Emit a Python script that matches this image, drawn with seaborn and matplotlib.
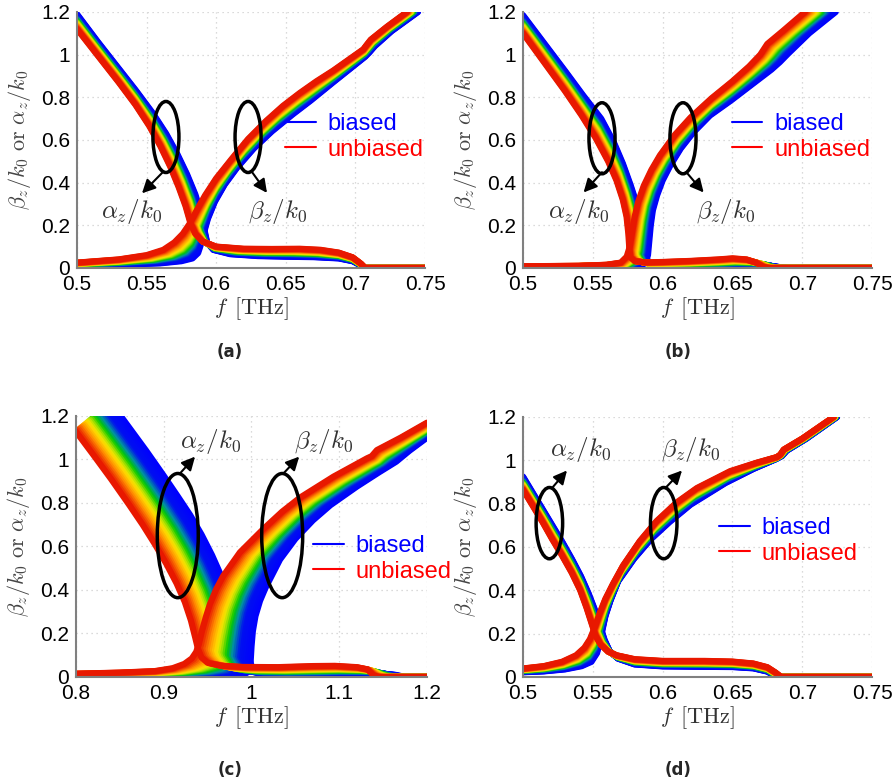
import numpy as np
import pandas as pd
import seaborn as sns
import matplotlib.pyplot as plt
from matplotlib.patches import Ellipse
from matplotlib.lines import Line2D
from matplotlib.ticker import FuncFormatter
from matplotlib.colors import LinearSegmentedColormap

# ---- data: (f [THz], value) for the biased (blue) and unbiased (red) curves
# panel (a)
a_down_blue = [(0.500, 1.19), (0.515, 1.06), (0.530, 0.935), (0.542, 0.835), (0.554, 0.73), (0.564, 0.63),
               (0.572, 0.535), (0.579, 0.44), (0.585, 0.345), (0.589, 0.26), (0.5915, 0.18), (0.5935, 0.12),
               (0.598, 0.085), (0.610, 0.065), (0.630, 0.056), (0.650, 0.053), (0.670, 0.051), (0.688, 0.045),
               (0.698, 0.032), (0.703, 0.015), (0.706, 0.0), (0.750, 0.0)]
a_down_red = [(0.500, 1.12), (0.515, 0.995), (0.530, 0.87), (0.542, 0.765), (0.552, 0.665), (0.560, 0.57),
              (0.567, 0.475), (0.573, 0.38), (0.578, 0.29), (0.5815, 0.21), (0.585, 0.16), (0.590, 0.125),
              (0.600, 0.10), (0.620, 0.09), (0.640, 0.089), (0.660, 0.09), (0.675, 0.085), (0.688, 0.072),
              (0.698, 0.05), (0.704, 0.02), (0.707, 0.0), (0.750, 0.0)]
a_up_blue = [(0.500, 0.01), (0.530, 0.015), (0.560, 0.022), (0.575, 0.032), (0.583, 0.045), (0.587, 0.07),
             (0.589, 0.11), (0.591, 0.16), (0.594, 0.23), (0.599, 0.31), (0.606, 0.39), (0.615, 0.47),
             (0.627, 0.56), (0.640, 0.64), (0.655, 0.72), (0.668, 0.785), (0.684, 0.87), (0.707, 0.99),
             (0.710, 1.01), (0.714, 1.04), (0.726, 1.11), (0.745, 1.2)]
a_up_red = [(0.500, 0.025), (0.530, 0.04), (0.550, 0.06), (0.562, 0.085), (0.570, 0.12), (0.576, 0.16),
            (0.5812, 0.21), (0.586, 0.27), (0.592, 0.34), (0.600, 0.42), (0.611, 0.51), (0.623, 0.605),
            (0.636, 0.69), (0.648, 0.76), (0.660, 0.82), (0.672, 0.875), (0.684, 0.925), (0.7057, 1.025),
            (0.708, 1.045), (0.711, 1.07), (0.7225, 1.13), (0.737, 1.2)]

# panel (b)
b_down_blue = [(0.500, 1.185), (0.515, 1.055), (0.530, 0.925), (0.543, 0.81), (0.556, 0.70), (0.565, 0.59),
               (0.5715, 0.49), (0.5770, 0.39), (0.5815, 0.30), (0.5845, 0.22), (0.5865, 0.14), (0.588, 0.07),
               (0.5895, 0.03), (0.596, 0.01), (0.605, 0.007), (0.620, 0.006), (0.640, 0.008), (0.655, 0.011),
               (0.668, 0.012), (0.678, 0.009), (0.685, 0.003), (0.690, 0.0), (0.750, 0.0)]
b_down_red = [(0.500, 1.10), (0.515, 0.965), (0.530, 0.83), (0.542, 0.715), (0.552, 0.61), (0.561, 0.50),
              (0.567, 0.41), (0.5715, 0.32), (0.5742, 0.24), (0.5755, 0.16), (0.5762, 0.09), (0.577, 0.05),
              (0.580, 0.032), (0.588, 0.026), (0.600, 0.028), (0.620, 0.033), (0.640, 0.04), (0.650, 0.045),
              (0.660, 0.04), (0.667, 0.025), (0.672, 0.005), (0.676, 0.0), (0.750, 0.0)]
b_up_blue = [(0.500, 0.004), (0.540, 0.004), (0.560, 0.004), (0.580, 0.005), (0.587, 0.02), (0.5895, 0.06),
             (0.5905, 0.13), (0.5915, 0.20), (0.593, 0.27), (0.596, 0.34), (0.600, 0.41), (0.6055, 0.48),
             (0.613, 0.56), (0.622, 0.635), (0.634, 0.715), (0.649, 0.785), (0.664, 0.86), (0.678, 0.93),
             (0.684, 0.965), (0.690, 1.005), (0.705, 1.10), (0.724, 1.2)]
b_up_red = [(0.500, 0.008), (0.540, 0.01), (0.560, 0.015), (0.570, 0.025), (0.5743, 0.053), (0.5765, 0.10),
            (0.5782, 0.17), (0.580, 0.24), (0.5825, 0.31), (0.5865, 0.385), (0.592, 0.46), (0.5981, 0.528),
            (0.6089, 0.625), (0.620, 0.705), (0.635, 0.795), (0.650, 0.875), (0.662, 0.945), (0.670, 1.0),
            (0.672, 1.02), (0.675, 1.05), (0.686, 1.11), (0.702, 1.2)]

# panel (c)
c_down_blue = [(0.840, 1.26), (0.860, 1.15), (0.880, 1.04), (0.900, 0.925), (0.916, 0.83), (0.930, 0.745),
               (0.943, 0.655), (0.955, 0.56), (0.966, 0.46), (0.976, 0.36), (0.985, 0.26), (0.992, 0.17),
               (0.997, 0.09), (1.001, 0.04), (1.008, 0.018), (1.025, 0.01), (1.050, 0.008), (1.080, 0.008),
               (1.105, 0.011), (1.130, 0.014), (1.150, 0.014), (1.165, 0.009), (1.175, 0.0), (1.200, 0.0)]
c_down_red = [(0.800, 1.128), (0.820, 1.02), (0.840, 0.91), (0.860, 0.795), (0.876, 0.70), (0.890, 0.61),
              (0.903, 0.52), (0.9147, 0.43), (0.924, 0.345), (0.931, 0.26), (0.936, 0.18), (0.939, 0.13),
              (0.943, 0.09), (0.950, 0.065), (0.965, 0.052), (0.990, 0.046), (1.030, 0.045), (1.070, 0.05),
              (1.095, 0.051), (1.120, 0.045), (1.132, 0.035), (1.139, 0.008), (1.145, 0.0), (1.200, 0.0)]
c_up_blue = [(0.800, 0.003), (0.850, 0.003), (0.900, 0.003), (0.940, 0.003), (0.970, 0.004), (0.990, 0.008),
             (0.997, 0.025), (0.999, 0.07), (1.000, 0.14), (1.0015, 0.21), (1.0045, 0.28), (1.0097, 0.35),
             (1.016, 0.41), (1.0325, 0.54), (1.050, 0.635), (1.070, 0.72), (1.090, 0.79), (1.120, 0.875),
             (1.145, 0.94), (1.155, 0.965), (1.165, 0.99), (1.180, 1.04), (1.200, 1.10)]
c_up_red = [(0.800, 0.015), (0.850, 0.02), (0.890, 0.027), (0.910, 0.04), (0.9235, 0.06), (0.932, 0.085),
            (0.937, 0.115), (0.940, 0.15), (0.9435, 0.21), (0.948, 0.275), (0.9527, 0.335), (0.960, 0.405),
            (0.9679, 0.465), (0.9869, 0.573), (1.0135, 0.68), (1.035, 0.76), (1.0555, 0.825), (1.0935, 0.921),
            (1.1316, 1.005), (1.137, 1.015), (1.143, 1.043), (1.170, 1.10), (1.200, 1.169)]

# panel (d)
d_down_blue = [(0.500, 0.925), (0.507, 0.85), (0.514, 0.775), (0.521, 0.70), (0.528, 0.625), (0.535, 0.545),
               (0.5415, 0.465), (0.547, 0.385), (0.5515, 0.31), (0.555, 0.24), (0.5585, 0.17), (0.562, 0.12),
               (0.568, 0.085), (0.580, 0.058), (0.600, 0.049), (0.630, 0.047), (0.650, 0.046), (0.665, 0.04),
               (0.675, 0.025), (0.679, 0.01), (0.681, 0.0), (0.750, 0.0)]
d_down_red = [(0.500, 0.864), (0.507, 0.79), (0.514, 0.715), (0.521, 0.635), (0.528, 0.56), (0.535, 0.48),
              (0.541, 0.40), (0.5455, 0.32), (0.549, 0.25), (0.552, 0.19), (0.5555, 0.15), (0.561, 0.117),
              (0.5671, 0.10), (0.580, 0.082), (0.600, 0.074), (0.630, 0.074), (0.650, 0.071), (0.665, 0.062),
              (0.675, 0.045), (0.681, 0.02), (0.685, 0.0), (0.750, 0.0)]
d_up_blue = [(0.500, 0.022), (0.515, 0.026), (0.530, 0.035), (0.542, 0.05), (0.549, 0.07), (0.553, 0.11),
             (0.555, 0.16), (0.557, 0.22), (0.559, 0.28), (0.5625, 0.35), (0.568, 0.44), (0.5795, 0.545),
             (0.5915, 0.635), (0.605, 0.715), (0.620, 0.795), (0.645, 0.895), (0.665, 0.96), (0.681, 1.005),
             (0.6855, 1.02), (0.689, 1.045), (0.703, 1.10), (0.725, 1.2)]
d_up_red = [(0.500, 0.039), (0.515, 0.05), (0.528, 0.07), (0.538, 0.10), (0.544, 0.135), (0.548, 0.175),
            (0.5515, 0.23), (0.555, 0.295), (0.559, 0.36), (0.5645, 0.43), (0.5718, 0.515), (0.5838, 0.628),
            (0.5958, 0.72), (0.610, 0.805), (0.6246, 0.872), (0.6485, 0.95), (0.668, 0.99), (0.682, 1.015),
            (0.6843, 1.026), (0.6867, 1.049), (0.700, 1.10), (0.7225, 1.2)]

xticks_abd = [0.5, 0.55, 0.6, 0.65, 0.7, 0.75]
xticks_c = [0.8, 0.9, 1.0, 1.1, 1.2]
yticks = [0, 0.2, 0.4, 0.6, 0.8, 1.0, 1.2]
captions = ['(a)', '(b)', '(c)', '(d)']

N_LINES = 26
band_cmap = LinearSegmentedColormap.from_list(
    'band', [(0.0, '#0000ff'), (0.26, '#0010f0'), (0.40, '#0090a0'), (0.50, '#00c800'),
             (0.62, '#b8e400'), (0.70, '#ffe000'), (0.84, '#ff8c00'), (1.0, '#e81800')])
line_colors = band_cmap(np.linspace(0, 1, N_LINES))

sns.set_style('white')
plt.rcParams['font.family'] = ['Liberation Sans', 'DejaVu Sans']
plt.rcParams['mathtext.fontset'] = 'cm'


def bundle(blue, red, name):
    # sweep from the biased curve to the unbiased one
    blue, red = np.asarray(blue), np.asarray(red)
    parts = []
    for k in range(N_LINES):
        t = k / (N_LINES - 1)
        pts = (1 - t) * blue + t * red
        parts.append(pd.DataFrame({'f': pts[:, 0], 'v': pts[:, 1], 'level': k, 'curve': name}))
    return parts


panels = [
    dict(down=(a_down_blue, a_down_red), up=(a_up_blue, a_up_red), xlim=(0.5, 0.75), xticks=xticks_abd,
         rect=[0.0861, 0.6573, 0.3893, 0.3274],
         ell=[(0.5639, 0.614), (0.6229, 0.614)], ew=0.0187, eh=0.333,
         arrows=[((0.5618, 0.45), (0.5467, 0.35)), ((0.6257, 0.45), (0.6365, 0.352))],
         txt=[(0.5395, 0.263), (0.6444, 0.263)], leg=(0.598, 0.512)),
    dict(down=(b_down_blue, b_down_red), up=(b_up_blue, b_up_red), xlim=(0.5, 0.75), xticks=xticks_abd,
         rect=[0.585, 0.6573, 0.3904, 0.3274],
         ell=[(0.5566, 0.608), (0.6146, 0.608)], ew=0.0187, eh=0.333,
         arrows=[((0.5566, 0.449), (0.5434, 0.354)), ((0.6170, 0.449), (0.6294, 0.354))],
         txt=[(0.5399, 0.265), (0.6449, 0.265)], leg=(0.598, 0.512)),
    dict(down=(c_down_blue, c_down_red), up=(c_up_blue, c_up_red), xlim=(0.8, 1.2), xticks=xticks_c,
         rect=[0.0850, 0.1343, 0.3926, 0.3338],
         ell=[(0.916, 0.65), (1.035, 0.65)], ew=0.0467, eh=0.571,
         arrows=[((0.9186, 0.936), (0.9357, 1.013)), ((1.0365, 0.936), (1.0544, 1.013))],
         txt=[(0.9529, 1.082), (1.0821, 1.082)], leg=(0.675, 0.452)),
    dict(down=(d_down_blue, d_down_red), up=(d_up_blue, d_up_red), xlim=(0.5, 0.75), xticks=xticks_abd,
         rect=[0.585, 0.1343, 0.3904, 0.3325],
         ell=[(0.5189, 0.71), (0.6008, 0.71)], ew=0.019, eh=0.329,
         arrows=[((0.5208, 0.872), (0.5315, 0.953)), ((0.602, 0.872), (0.6139, 0.953))],
         txt=[(0.5411, 1.049), (0.6199, 1.049)], leg=(0.5616, 0.523)),
]
caption_pos = [(0.2573, 0.5499), (0.7584, 0.5499), (0.2573, 0.0153), (0.7584, 0.0153)]

fig = plt.figure(figsize=(8.94, 7.82), dpi=100)

for p, cap, cpos in zip(panels, captions, caption_pos):
    ax = fig.add_axes(p['rect'])
    df = pd.concat(bundle(*p['down'], 'down') + bundle(*p['up'], 'up'), ignore_index=True)
    sns.lineplot(data=df, x='f', y='v', hue='level', units='curve', estimator=None, sort=False,
                 palette=dict(enumerate(line_colors)), legend=False, linewidth=4.5, ax=ax)

    ax.set_xlim(*p['xlim'])
    ax.set_ylim(0, 1.2)
    ax.set_xticks(p['xticks'])
    ax.set_yticks(yticks)
    fmt = FuncFormatter(lambda v, pos: '%g' % v)
    ax.xaxis.set_major_formatter(fmt)
    ax.yaxis.set_major_formatter(fmt)
    ax.grid(True, ls=(0, (1, 3)), color='#cfcfcf', lw=0.9)
    ax.set_axisbelow(True)
    for s in ['top', 'right']:
        ax.spines[s].set_visible(False)
    for s in ['left', 'bottom']:
        ax.spines[s].set_color('#808080')
        ax.spines[s].set_linewidth(1.5)
    ax.tick_params(direction='in', length=4, color='#808080', labelsize=15, labelcolor='black', pad=5)

    ax.set_xlabel(r'$f\ \,[\mathrm{THz}]$', fontsize=16, color='#333333')
    ax.set_ylabel(r'$\beta_z/k_0\ \mathrm{or}\ \alpha_z/k_0$', fontsize=16, color='#444444')
    ax.xaxis.set_label_coords(0.5, -0.105)
    ax.yaxis.set_label_coords(-0.125, 0.5)

    for (ex, ey) in p['ell']:
        ax.add_patch(Ellipse((ex, ey), p['ew'], p['eh'], fill=False, ec='black', lw=2.5, zorder=5))
    for start, end in p['arrows']:
        ax.annotate('', xy=end, xytext=start,
                    arrowprops=dict(arrowstyle='-|>', color='black', lw=1.5, mutation_scale=20,
                                    shrinkA=0, shrinkB=0), zorder=6)
    ax.text(*p['txt'][0], r'$\alpha_z/k_0$', fontsize=18, ha='center', va='center', color='#333333')
    ax.text(*p['txt'][1], r'$\beta_z/k_0$', fontsize=18, ha='center', va='center', color='#333333')

    handles = [Line2D([], [], color='blue', lw=1.5), Line2D([], [], color='red', lw=1.5)]
    ax.legend(handles, ['biased', 'unbiased'], loc='center left', bbox_to_anchor=p['leg'],
              frameon=False, fontsize=17, labelcolor=['blue', 'red'], handlelength=1.3,
              handletextpad=0.5, labelspacing=0.15, borderpad=0, borderaxespad=0)

    fig.text(cpos[0], cpos[1], cap, fontsize=12, fontweight='bold', ha='center', va='center',
             family='DejaVu Sans')

fig.savefig('out.png', dpi=100)
